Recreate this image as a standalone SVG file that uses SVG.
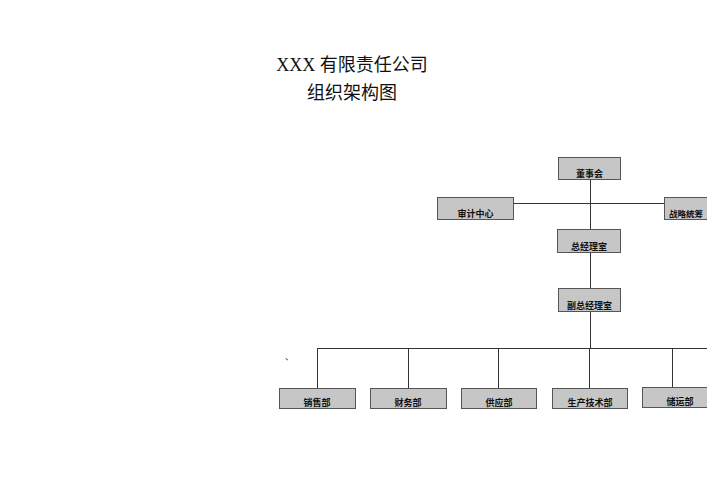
<svg xmlns="http://www.w3.org/2000/svg" width="707" height="500" viewBox="0 0 707 500">
<style>
.box{fill:#c6c6c6;stroke:#555;stroke-width:1}
.lbl{font-family:"Noto Sans CJK SC",sans-serif;font-size:9px;font-weight:bold;fill:#111;text-anchor:middle}
.ttl{font-family:"Liberation Serif","Noto Sans CJK SC",serif;font-size:18px;fill:#111;text-anchor:middle}
.ln{stroke:#333;stroke-width:1;fill:none}
</style>
<rect width="707" height="500" fill="#fff"/>
<g id="title">
<text class="ttl" x="352" y="71">XXX 有限责任公司</text>
<text class="ttl" x="352" y="99">组织架构图</text>
</g>
<g id="connectors">
<path class="ln" d="M590.5 179V229M513 203.5H664M590.5 252V288M590.5 311V348M317 348.5H707M317.5 348V388M408.5 348V388M498.5 348V388M589.5 348V388M672.5 348V387"/>
</g>
<g id="n-board"><rect class="box" x="558.5" y="157.5" width="62" height="22"/><text class="lbl" x="589.5" y="177">董事会</text></g>
<g id="n-audit"><rect class="box" x="437.5" y="197.5" width="76" height="22"/><text class="lbl" x="475.5" y="217">审计中心</text></g>
<g id="n-strategy"><rect class="box" x="664.5" y="197.5" width="76" height="22"/><text class="lbl" x="669" y="217" style="text-anchor:start;font-size:8.5px">战略统筹</text></g>
<g id="n-gm"><rect class="box" x="557.5" y="229.5" width="63" height="23"/><text class="lbl" x="589" y="250">总经理室</text></g>
<g id="n-vgm"><rect class="box" x="558.5" y="288.5" width="62" height="23"/><text class="lbl" x="589.5" y="309">副总经理室</text></g>
<g id="n-sales"><rect class="box" x="279.5" y="388.5" width="76" height="20"/><text class="lbl" x="317" y="406">销售部</text></g>
<g id="n-finance"><rect class="box" x="370.5" y="388.5" width="76" height="20"/><text class="lbl" x="408" y="406">财务部</text></g>
<g id="n-supply"><rect class="box" x="461.5" y="388.5" width="75" height="20"/><text class="lbl" x="499" y="406">供应部</text></g>
<g id="n-prod"><rect class="box" x="552.5" y="388.5" width="75" height="20"/><text class="lbl" x="590" y="406">生产技术部</text></g>
<g id="n-storage"><rect class="box" x="642.5" y="387.5" width="76" height="20"/><text class="lbl" x="680" y="405">储运部</text></g>
<text x="285" y="360" style="font-family:'Noto Sans CJK SC',sans-serif;font-size:9px;fill:#333">、</text>
</svg>
